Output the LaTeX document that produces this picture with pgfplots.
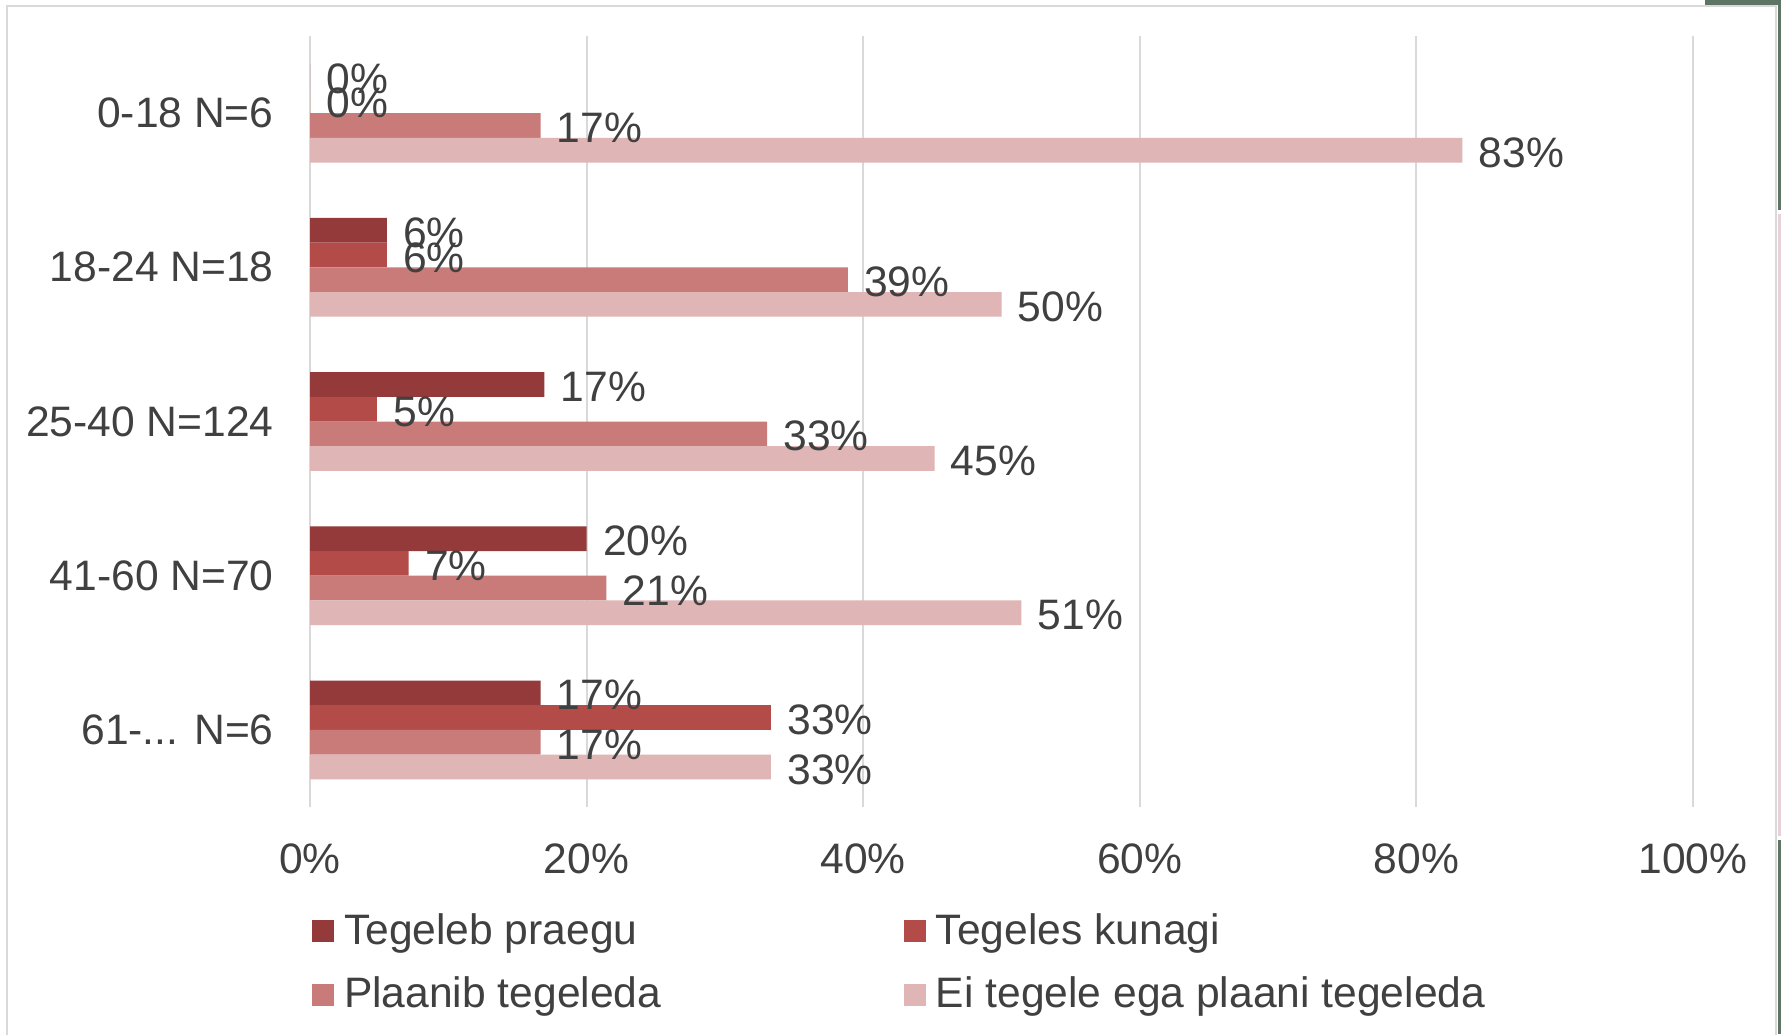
\documentclass[border=0pt]{standalone}
\usepackage{pgfplots}
\pgfplotsset{compat=1.18}
\usepackage{fontspec}
\setmainfont{Liberation Sans}
\definecolor{cA}{HTML}{953A3A}
\definecolor{cB}{HTML}{B34B48}
\definecolor{cC}{HTML}{C97B7A}
\definecolor{cD}{HTML}{DFB5B5}
\definecolor{txt}{HTML}{404040}
\definecolor{gridc}{HTML}{D9D9D9}
\definecolor{gr}{HTML}{5E7566}
\definecolor{pk}{HTML}{E6D2DA}
\newcommand{\bigf}{\fontsize{21.3}{25}\selectfont}
\pgfplotsset{sqleg/.style={legend image code/.code={\fill[##1] (0pt,1pt) rectangle (11pt,12pt);}}}
\begin{document}
\begin{tikzpicture}
\useasboundingbox (0,0) rectangle (890.5pt,-517pt);
\fill[white] (0,0) rectangle (890.5pt,-517pt);
\draw[gridc, line width=1pt] (3.5pt,-520pt) -- (3.5pt,-3pt) -- (888pt,-3pt) -- (888pt,-520pt);
\fill[gr] (852.5pt,0pt) rectangle (890.5pt,-2.5pt);
\fill[gr] (889pt,0pt) rectangle (890.5pt,-105pt);
\fill[pk] (889pt,-107pt) rectangle (890.5pt,-418pt);
\fill[gr] (889pt,-420pt) rectangle (890.5pt,-517pt);
\begin{axis}[
  at={(155pt,-18pt)}, anchor=north west,
  scale only axis, width=691.5pt, height=385.5pt,
  xbar, bar width=12.35pt,
  xmin=0, xmax=100, ymin=-0.5, ymax=4.5, y dir=reverse,
  ytick={0,1,2,3,4},
  yticklabels={0-18 N=6, 18-24 N=18, 25-40 N=124, 41-60 N=70, 61-.{}.{}. N=6},
  xtick={0,20,40,60,80,100},
  xticklabel={\pgfmathprintnumber{\tick}\%},
  /pgf/number format/assume math mode=true,
  axis line style={draw=none},
  major tick length=0pt,
  xmajorgrids,
  grid style={draw=gridc, line width=1pt},
  xticklabel style={font=\bigf, text=txt, anchor=base, yshift=-33.25pt, inner sep=0pt},
  yticklabel style={font=\bigf, text=txt, anchor=base east, inner sep=0pt, xshift=-18pt, yshift=-7.25pt},
  point meta=x,
  nodes near coords={\pgfmathprintnumber[fixed,precision=0]{\pgfplotspointmeta}\%},
  every node near coord/.append style={font=\bigf, text=txt, anchor=west, inner sep=0pt, xshift=8pt, yshift=-1.2pt},
  clip=false,
  legend columns=2,
  legend style={at={(0,0)}, anchor=north west, xshift=1pt, yshift=-53.5pt, draw=none, fill=none, inner sep=0pt, outer sep=0pt, font=\bigf, text=txt, row sep=12.25pt, cells={anchor=base west}, nodes={inner sep=0pt, text height=15pt, text depth=4.5pt}, /tikz/every odd column/.append style={column sep=5pt}, /tikz/every even column/.append style={column sep=121.2pt}},
]
\addplot[fill=cA, draw=none, bar shift=18.525pt, sqleg] coordinates {(0,0) (5.56,1) (16.94,2) (20,3) (16.67,4)};
\addlegendentry{Tegeleb praegu}
\addplot[fill=cB, draw=none, bar shift=6.175pt, sqleg] coordinates {(0,0) (5.56,1) (4.84,2) (7.14,3) (33.33,4)};
\addlegendentry{Tegeles kunagi}
\addplot[fill=cC, draw=none, bar shift=-6.175pt, sqleg] coordinates {(16.67,0) (38.89,1) (33.06,2) (21.43,3) (16.67,4)};
\addlegendentry{Plaanib tegeleda}
\addplot[fill=cD, draw=none, bar shift=-18.525pt, sqleg] coordinates {(83.33,0) (50,1) (45.16,2) (51.43,3) (33.33,4)};
\addlegendentry{Ei tegele ega plaani tegeleda}
\end{axis}
\end{tikzpicture}
\end{document}
